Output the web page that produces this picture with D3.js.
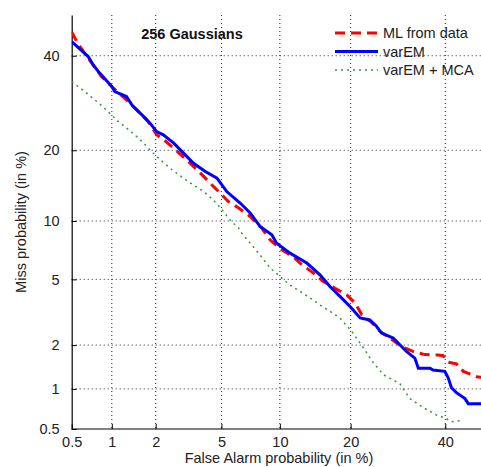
<!DOCTYPE html>
<html>
<head>
<meta charset="utf-8">
<script src="https://cdn.jsdelivr.net/npm/d3@7"></script>
<style>
  html, body { margin: 0; padding: 0; background: #fff; }
  svg { display: block; }
  text { font-family: "Liberation Sans", Arial, Helvetica, sans-serif; }
</style>
</head>
<body>
<svg id="chart" width="481" height="467"></svg>
<script>
// ---- data (percent) ----
const tickValues = [0.5, 1, 2, 5, 10, 20, 40];
const tickLabels = ["0.5", "1", "2", "5", "10", "20", "40"];
const seriesNames = ["ML from data", "varEM", "varEM + MCA"];
const chartTitle = "256 Gaussians";

// ML from data: [false alarm %, miss %]
const mlFromData = [
  [0.5, 45.8], [0.54, 43.8], [0.58, 42.2], [0.84, 35.1], [1.0, 32.8], [1.31, 29.5],
  [1.78, 25.4], [2.03, 22.8], [2.32, 21.6], [2.67, 20.1], [3.30, 17.8], [3.78, 16.3],
  [4.23, 15.0], [4.82, 13.6], [5.46, 12.3], [6.20, 11.5], [7.13, 10.5], [7.71, 9.76],
  [8.16, 9.25], [8.98, 8.08], [10.2, 7.21], [11.5, 6.63], [12.6, 6.02], [13.9, 5.52],
  [15.6, 4.87], [17.4, 4.45], [19.3, 4.09], [20.8, 3.65], [22.0, 3.11], [23.9, 2.78],
  [25.5, 2.45], [27.9, 2.17], [30.0, 1.96], [32.6, 1.81], [35.2, 1.73], [38.3, 1.72],
  [39.5, 1.70], [40.7, 1.54], [42.7, 1.50], [44.4, 1.33], [47.7, 1.22], [50, 1.20]
];

// varEM
const varEM = [
  [0.5, 43.4], [0.67, 39.8], [0.73, 37.8], [0.80, 36.2], [1.0, 32.8], [1.05, 31.7],
  [1.27, 30.6], [1.39, 28.7], [1.70, 26.1], [1.83, 25.1], [2.03, 23.4], [2.24, 22.8],
  [2.6, 21.3], [3.0, 19.5], [3.45, 17.8], [4.05, 16.5], [4.72, 15.5], [5.35, 13.6],
  [6.32, 12.1], [7.13, 10.9], [8.0, 9.41], [9.15, 8.58], [9.65, 7.79], [11.15, 6.92],
  [13.3, 6.12], [15.1, 5.30], [16.6, 4.56], [18.2, 4.0], [19.9, 3.49], [21.7, 2.97],
  [23.5, 2.89], [24.8, 2.64], [25.8, 2.39], [28.2, 2.22], [29.6, 2.01], [31.1, 1.81],
  [32.9, 1.64], [33.7, 1.40], [36.4, 1.40], [37.1, 1.36], [39.9, 1.33], [40.7, 1.20],
  [41.5, 1.02], [42.7, 0.94], [44.8, 0.85], [45.6, 0.78], [50, 0.78]
];

// varEM + MCA
const varEMMCA = [
  [0.5, 33.9], [0.63, 31.7], [0.84, 28.7], [1.11, 25.4], [1.45, 22.8], [1.66, 21.3],
  [1.83, 20.1], [2.14, 18.4], [2.48, 17.0], [3.0, 15.5], [3.45, 14.5], [3.96, 13.6],
  [4.49, 12.5], [5.03, 11.3], [5.58, 10.1], [6.20, 9.25], [6.32, 8.91], [7.13, 7.79],
  [8.0, 6.77], [8.98, 5.77], [10.0, 5.19], [11.15, 4.65], [12.4, 4.27], [13.7, 3.92],
  [15.1, 3.56], [16.6, 3.26], [18.2, 2.97], [20.2, 2.45], [22.3, 1.92], [24.2, 1.52],
  [26.2, 1.26], [29.6, 1.09], [31.8, 0.85], [34.8, 0.73], [37.9, 0.64], [39.9, 0.61],
  [41.5, 0.57], [43.6, 0.58]
];

// ---- normal deviate (probit) ----
function probit(p) {
  const a = [-3.969683028665376e+01, 2.209460984245205e+02, -2.759285104469687e+02,
             1.383577518672690e+02, -3.066479806614716e+01, 2.506628277459239e+00];
  const b = [-5.447609879822406e+01, 1.615858368580409e+02, -1.556989798598866e+02,
             6.680131188771972e+01, -1.328068155288572e+01];
  const c = [-7.784894002430293e-03, -3.223964580411365e-01, -2.400758277161838e+00,
             -2.549732539343734e+00, 4.374664141464968e+00, 2.938163982698783e+00];
  const d = [7.784695709041462e-03, 3.224671290700398e-01, 2.445134137142996e+00,
             3.754408661907416e+00];
  const plow = 0.02425, phigh = 1 - plow;
  let q, r;
  if (p < plow) {
    q = Math.sqrt(-2 * Math.log(p));
    return (((((c[0]*q+c[1])*q+c[2])*q+c[3])*q+c[4])*q+c[5]) /
           ((((d[0]*q+d[1])*q+d[2])*q+d[3])*q+1);
  } else if (p <= phigh) {
    q = p - 0.5; r = q * q;
    return (((((a[0]*r+a[1])*r+a[2])*r+a[3])*r+a[4])*r+a[5])*q /
           (((((b[0]*r+b[1])*r+b[2])*r+b[3])*r+b[4])*r+1);
  } else {
    q = Math.sqrt(-2 * Math.log(1 - p));
    return -(((((c[0]*q+c[1])*q+c[2])*q+c[3])*q+c[4])*q+c[5]) /
            ((((d[0]*q+d[1])*q+d[2])*q+d[3])*q+1);
  }
}
const pz = v => probit(v / 100);

// ---- layout ----
const svg = d3.select("#chart");
const plotL = 71.7, plotR = 486, plotT = 15, plotB = 429;
const FS = 14.5;

const x = d3.scaleLinear().domain([pz(0.5), pz(50)]).range([plotL, plotR]);
const y = d3.scaleLinear().domain([pz(0.5), pz(50)]).range([plotB, plotT]);

const tz = tickValues.map(pz);
const labelOf = v => tickLabels[tz.findIndex(t => Math.abs(t - v) < 1e-9)];

svg.append("defs").append("clipPath").attr("id", "clip")
  .append("rect").attr("x", plotL).attr("y", plotT).attr("width", 481 - plotL).attr("height", plotB - plotT);

// grid
const grid = svg.append("g").attr("stroke", "#222").attr("stroke-width", 1)
  .attr("stroke-dasharray", "1,3").attr("fill", "none");
tz.forEach(v => {
  if (v > pz(0.5) + 1e-9) {
    grid.append("line").attr("x1", x(v)).attr("x2", x(v)).attr("y1", plotT).attr("y2", plotB);
    grid.append("line").attr("x1", plotL).attr("x2", 481).attr("y1", y(v)).attr("y2", y(v));
  }
});

// axes
const xAxis = d3.axisBottom(x).tickValues(tz).tickFormat(labelOf).tickSizeInner(-5).tickSizeOuter(0).tickPadding(8);
const yAxis = d3.axisLeft(y).tickValues(tz).tickFormat(labelOf).tickSizeInner(-5).tickSizeOuter(0).tickPadding(12);

const gx = svg.append("g").attr("transform", `translate(0,${plotB})`).call(xAxis);
const gy = svg.append("g").attr("transform", `translate(${plotL},0)`).call(yAxis);
[gx, gy].forEach(g => {
  g.select(".domain").attr("stroke", "#000").attr("stroke-width", 1.2);
  g.selectAll(".tick line").attr("stroke", "#000");
  g.selectAll(".tick text").attr("font-size", FS).attr("fill", "#222")
    .attr("font-family", '"Liberation Sans", Arial, sans-serif');
});
gx.select(".domain").attr("d", `M${plotL},0H481`);

// lines
const line = d3.line().x(d => x(pz(d[0]))).y(d => y(pz(d[1])));
const plot = svg.append("g").attr("clip-path", "url(#clip)");

plot.append("path").datum(varEMMCA).attr("d", line).attr("fill", "none")
  .attr("stroke", "#2f9a2f").attr("stroke-width", 1.5).attr("stroke-dasharray", "2,4");
plot.append("path").datum(mlFromData).attr("d", line).attr("fill", "none")
  .attr("stroke", "#ff0000").attr("stroke-width", 3).attr("stroke-dasharray", "10,6");
plot.append("path").datum(varEM).attr("d", line).attr("fill", "none")
  .attr("stroke", "#0000ff").attr("stroke-width", 3);

// title
svg.append("text").attr("x", 192).attr("y", 38.5).attr("text-anchor", "middle")
  .attr("font-size", FS).attr("font-weight", "bold").attr("fill", "#111").text(chartTitle);

// legend
const legStyles = [
  { stroke: "#ff0000", w: 3, dash: "10,6" },
  { stroke: "#0000ff", w: 3, dash: null },
  { stroke: "#2f9a2f", w: 1.5, dash: "2,4" }
];
const legY = [33, 51.5, 70];
seriesNames.forEach((n, i) => {
  const s = legStyles[i];
  const l = svg.append("line").attr("x1", 335).attr("x2", 378).attr("y1", legY[i]).attr("y2", legY[i])
    .attr("stroke", s.stroke).attr("stroke-width", s.w);
  if (s.dash) l.attr("stroke-dasharray", s.dash);
  svg.append("text").attr("x", 383).attr("y", legY[i] + 5.2).attr("font-size", FS).attr("fill", "#222").text(n);
});

// axis titles
svg.append("text").attr("x", 279).attr("y", 463).attr("text-anchor", "middle")
  .attr("font-size", FS).attr("fill", "#222").text("False Alarm probability (in %)");
svg.append("text").attr("transform", `translate(26,222) rotate(-90)`).attr("text-anchor", "middle")
  .attr("font-size", FS).attr("fill", "#222").text("Miss probability (in %)");
</script>
</body>
</html>
